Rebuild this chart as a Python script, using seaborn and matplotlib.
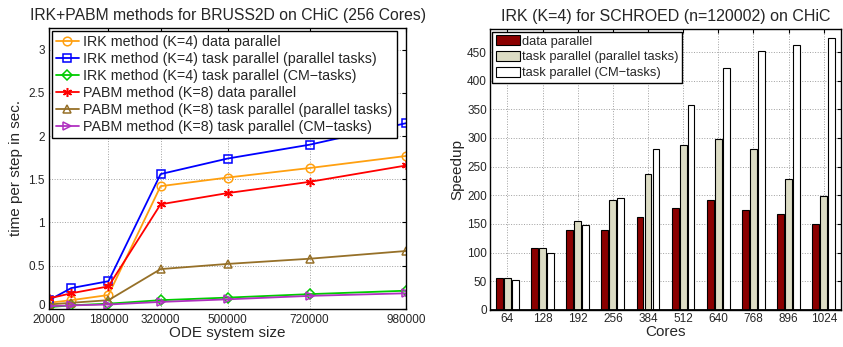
import numpy as np
import pandas as pd
import seaborn as sns
import matplotlib.pyplot as plt
import matplotlib.transforms as mtransforms

# Datos del grafico de la izquierda (tiempo por paso, BRUSS2D)
ode_sizes = [20000, 80000, 180000, 320000, 500000, 720000, 980000]
irk_data = [0.07, 0.10, 0.16, 1.42, 1.52, 1.63, 1.77]
irk_task = [0.10, 0.24, 0.32, 1.56, 1.74, 1.90, 2.15]
irk_cm = [0.02, 0.04, 0.06, 0.10, 0.13, 0.17, 0.21]
pabm_data = [0.12, 0.18, 0.26, 1.21, 1.34, 1.47, 1.66]
pabm_task = [0.05, 0.07, 0.10, 0.46, 0.52, 0.58, 0.67]
pabm_cm = [0.03, 0.04, 0.05, 0.08, 0.11, 0.15, 0.18]
left_xticks = [20000, 180000, 320000, 500000, 720000, 980000]

# Datos del grafico de la derecha (speedup, SCHROED)
cores = ['64', '128', '192', '256', '384', '512', '640', '768', '896', '1024']
sp_data = [55, 108, 140, 140, 162, 178, 192, 175, 168, 150]
sp_task = [55, 108, 155, 192, 238, 288, 299, 281, 228, 199]
sp_cm = [52, 100, 148, 195, 280, 358, 423, 452, 463, 474]
variants = ['data parallel', 'task parallel (parallel tasks)', 'task parallel (CM\u2212tasks)']

sns.set_style('white')
plt.rcParams['font.family'] = ['Liberation Sans', 'DejaVu Sans']

fig = plt.figure(figsize=(8.43, 3.47), dpi=100)
ax1 = fig.add_axes([0.058, 0.110, 0.424, 0.809])
ax2 = fig.add_axes([0.581, 0.107, 0.417, 0.809])

# --- izquierda ---
series = [
    ('IRK method (K=4) data parallel', irk_data, '#FFA010', 'o'),
    ('IRK method (K=4) task parallel (parallel tasks)', irk_task, '#0000FF', 's'),
    ('IRK method (K=4) task parallel (CM\u2212tasks)', irk_cm, '#00CC00', 'D'),
    ('PABM method (K=8) data parallel', pabm_data, '#FF0000', (6, 2, 0)),
    ('PABM method (K=8) task parallel (parallel tasks)', pabm_task, '#967028', '^'),
    ('PABM method (K=8) task parallel (CM\u2212tasks)', pabm_cm, '#B030C0', '>'),
]
for label, vals, col, mk in series:
    ms = {'D': 4.8, 's': 5.5}.get(mk, 6.2) if isinstance(mk, str) else 6.5
    sns.lineplot(x=ode_sizes, y=vals, ax=ax1, color=col, marker=mk, markersize=ms,
                 mfc='none', mec=col, mew=1.1, linewidth=1.3, label=label)

ax1.set_xlim(20000, 980000)
ax1.set_ylim(0, 3.25)
ax1.set_xticks(left_xticks)
ax1.set_xticklabels([str(v) for v in left_xticks])
ax1.set_yticks([0, 0.5, 1, 1.5, 2, 2.5, 3])
ax1.set_yticklabels(['0', '0.5', '1', '1.5', '2', '2.5', '3'])
ax1.set_xlabel('ODE system size', fontsize=11, labelpad=0)
ax1.set_ylabel('time per step in sec.', fontsize=11, labelpad=4)
ax1.set_title('IRK+PABM methods for BRUSS2D on CHiC (256 Cores)', fontsize=11.3, pad=6)
leg1 = ax1.legend(loc='upper left', fontsize=10.3, frameon=True, fancybox=False,
                  edgecolor='black', framealpha=1, handlelength=1.6, handletextpad=0.3,
                  labelspacing=0.2, borderaxespad=0.2, borderpad=0.3)
leg1.get_frame().set_linewidth(1.0)

# --- derecha ---
df = pd.DataFrame({
    'Cores': cores * 3,
    'Speedup': sp_data + sp_task + sp_cm,
    'variant': [variants[0]] * len(cores) + [variants[1]] * len(cores) + [variants[2]] * len(cores),
})
pal = {variants[0]: '#8B0000', variants[1]: '#DCDCC4', variants[2]: '#FFFFFF'}
sns.barplot(data=df, x='Cores', y='Speedup', hue='variant', palette=pal, ax=ax2,
            order=cores, hue_order=variants, width=0.68, gap=0.15,
            edgecolor='black', linewidth=0.8, saturation=1)
ax2.set_xlim(-0.5, 9.5)
ax2.set_ylim(0, 490)
ax2.set_yticks(np.arange(0, 451, 50))
ax2.set_xlabel('Cores', fontsize=11, labelpad=0)
ax2.set_ylabel('Speedup', fontsize=11, labelpad=2)
ax2.set_title('IRK (K=4) for SCHROED (n=120002) on CHiC', fontsize=11.5, pad=6)
ax2.axhline(0, color='black', linewidth=2)
leg2 = ax2.legend(loc='upper left', fontsize=9.3, frameon=True, fancybox=False,
                  edgecolor='black', framealpha=1, handlelength=1.9, handleheight=0.85,
                  handletextpad=0.15, labelspacing=0.25, borderaxespad=0.2, borderpad=0.25)
leg2.get_frame().set_linewidth(1.0)

# estilo tipo Matlab
for ax in (ax1, ax2):
    ax.grid(True, linestyle=':', color='#A0A0A0', linewidth=0.7)
    ax.set_axisbelow(True)
    ax.tick_params(direction='in', top=True, right=True, labelsize=8.5,
                   length=3, width=0.8, color='black', pad=2)
    for sp in ax.spines.values():
        sp.set_color('black')
        sp.set_linewidth(1.0)
    leg = ax.get_legend()
    leg.set_zorder(10)
ax1.tick_params(axis='x', pad=4)
ax1.tick_params(axis='y', pad=3)

# subir un poco el "0" del eje y para que no pise el 20000
shift = mtransforms.ScaledTranslation(0, 3 / 72, fig.dpi_scale_trans)
lbl0 = ax1.get_yticklabels()[0]
lbl0.set_transform(lbl0.get_transform() + shift)

fig.savefig('out.png', dpi=100)
